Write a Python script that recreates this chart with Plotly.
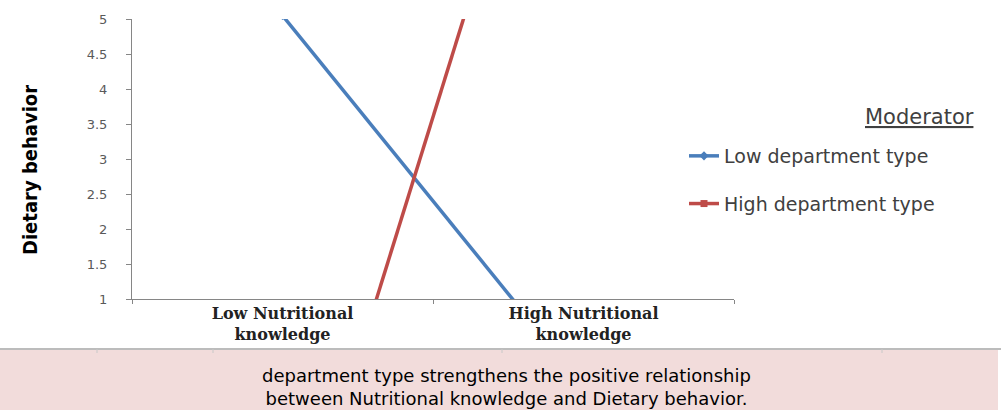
import plotly.graph_objects as go

# ---- data ----
categories = ["Low Nutritional<br>knowledge", "High Nutritional<br>knowledge"]
low_dept_type = [5.05, -0.25]
high_dept_type = [-3.32, 10.52]
series_names = ["Low department type", "High department type"]
y_title = "Dietary behavior"
legend_title = "Moderator"
caption_lines = ["department type strengthens the positive relationship",
                 "between Nutritional knowledge and Dietary behavior."]

W, H = 1001, 410
L, R, T, B = 132, 734, 19, 299  # plot area pixel box


def px(x):
    return (x - L) / (R - L)


def py(y):
    return (B - y) / (B - T)


fig = go.Figure()
fig.add_trace(go.Scatter(
    x=categories, y=low_dept_type, name=series_names[0], mode="lines+markers",
    line=dict(color="#4a7ebb", width=3.5),
    marker=dict(symbol="diamond", size=7, color="#4a7ebb"),
    legendgroup="a"))
fig.add_trace(go.Scatter(
    x=categories, y=high_dept_type, name=series_names[1], mode="lines+markers",
    line=dict(color="#be4b48", width=3.5),
    marker=dict(symbol="square", size=7, color="#be4b48"),
    legendgroup="b"))

axis_col = "#868686"
fig.update_layout(
    width=W, height=H,
    margin=dict(l=L, r=W - R, t=T, b=H - B, pad=0),
    paper_bgcolor="white", plot_bgcolor="white",
    showlegend=True,
    legend=dict(x=px(684), y=py(137), xanchor="left", yanchor="top",
                font=dict(family="DejaVu Sans", size=19, color="#404040"),
                traceorder="grouped", tracegroupgap=20,
                bgcolor="rgba(0,0,0,0)"),
    xaxis=dict(type="category", range=[-0.5, 1.5], showline=True,
               linecolor=axis_col, linewidth=1, ticks="outside",
               tickson="boundaries", ticklen=4, tickcolor=axis_col,
               showgrid=False, zeroline=False,
               tickfont=dict(family="DejaVu Serif", size=16, color="#222222",
                             weight="bold")),
    yaxis=dict(range=[1, 5], dtick=0.5, tick0=1, showline=True,
               linecolor=axis_col, linewidth=1, ticks="outside",
               ticklen=5, tickcolor=axis_col, showgrid=False, zeroline=False,
               ticklabelstandoff=16,
               tickfont=dict(family="DejaVu Sans", size=13, color="#595959")),
)

# y axis title (rotated)
fig.add_annotation(
    text=y_title, textangle=-90, xref="paper", yref="paper",
    x=px(30), y=py(170), xanchor="center", yanchor="middle", showarrow=False,
    font=dict(family="DejaVu Sans Condensed, Liberation Sans Narrow, sans-serif",
              size=20, color="black", weight="bold"))

# legend title
fig.add_annotation(
    text="<u>" + legend_title + "</u>", xref="paper", yref="paper",
    x=px(976), y=py(117), xanchor="right", yanchor="middle", showarrow=False,
    font=dict(family="DejaVu Sans", size=21, color="#404040"))

# bottom divider and caption box
fig.add_shape(type="rect", xref="paper", yref="paper",
              x0=px(0), x1=px(998), y0=py(350), y1=py(411),
              fillcolor="#f2dcdb", line=dict(width=0), layer="below")
fig.add_shape(type="line", xref="paper", yref="paper",
              x0=px(0), x1=px(1001), y0=py(349), y1=py(349),
              line=dict(color="#a6a6a6", width=1.5))
for gx in [97, 213, 502, 882]:
    fig.add_shape(type="line", xref="paper", yref="paper",
                  x0=px(gx), x1=px(gx), y0=py(349), y1=py(353),
                  line=dict(color="#c8c8c8", width=1))

fig.add_annotation(
    text="<br>".join(caption_lines), xref="paper", yref="paper",
    x=px(506), y=py(387), xanchor="center", yanchor="middle",
    showarrow=False, align="center", borderpad=0,
    font=dict(family="DejaVu Sans", size=18, color="black"))

fig.write_html("out.html")
